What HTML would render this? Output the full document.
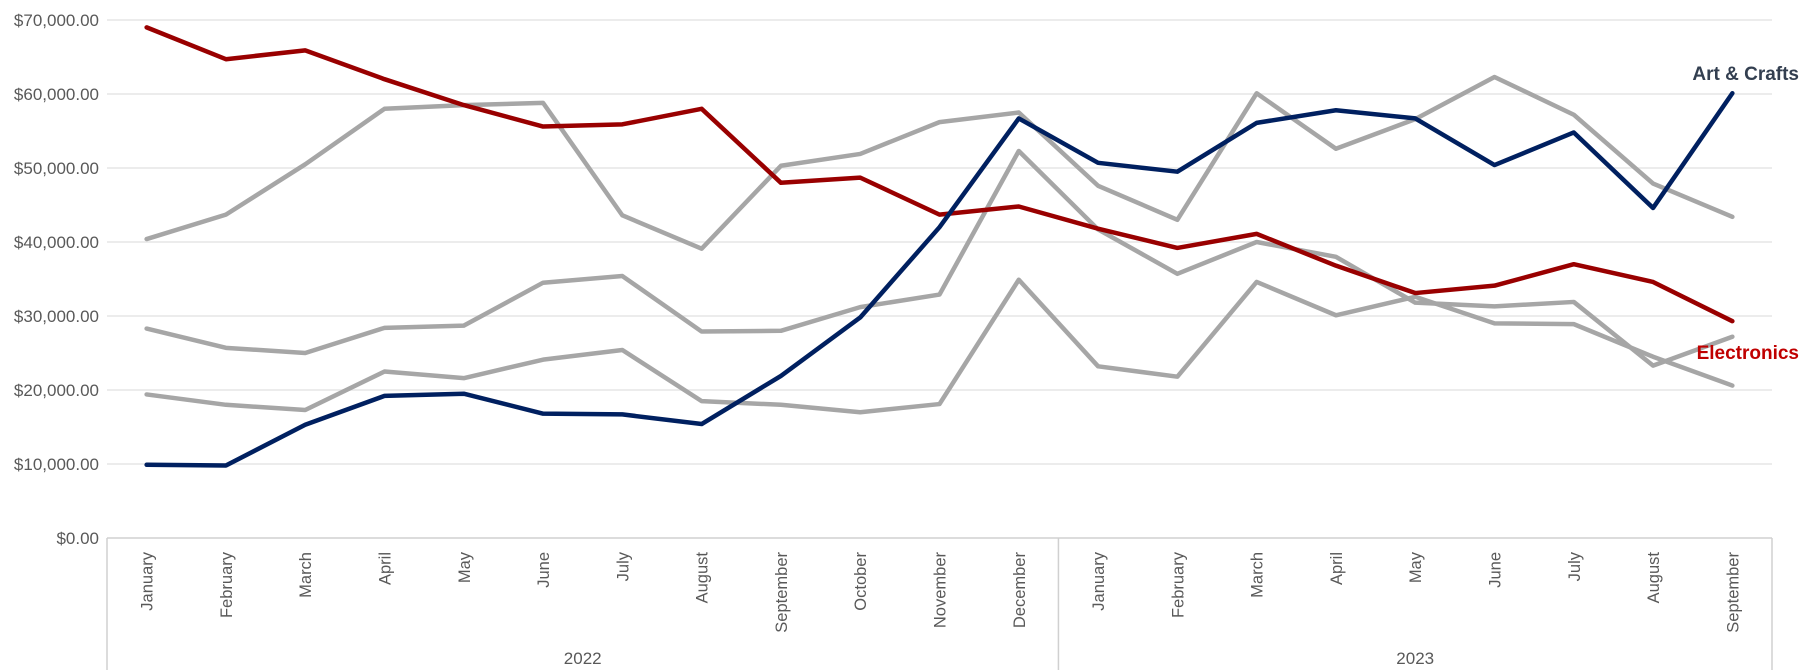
<!DOCTYPE html>
<html><head><meta charset="utf-8"><style>
body{margin:0;background:#fff;}
svg{display:block;font-family:"Liberation Sans",sans-serif;}
</style></head><body>
<svg id="chart" width="1805" height="670" viewBox="0 0 1805 670" xmlns="http://www.w3.org/2000/svg"></svg>
<script>
const months=["January","February","March","April","May","June","July","August","September","October","November","December","January","February","March","April","May","June","July","August","September"];
const years=["2022","2023"];
const yearCounts=[12,9];
const yTicks=[0,10000,20000,30000,40000,50000,60000,70000];
const electronics=[69000,64700,65900,62000,58500,55600,55900,58000,48000,48700,43700,44800,41800,39200,41100,36800,33100,34100,37000,34600,29300];
const artCrafts=[9900,9800,15300,19200,19500,16800,16700,15400,21900,29800,42000,56700,50700,49500,56100,57800,56700,50400,54800,44600,60100];
const grayA=[40400,43700,50500,58000,58500,58800,43600,39100,50300,51900,56200,57500,47600,43000,60100,52600,56600,62300,57200,47900,43400];
const grayB=[28300,25700,25000,28400,28700,34500,35400,27900,28000,31200,32900,52300,41700,35700,40000,38000,31800,31300,31900,23300,27200];
const grayC=[19400,18000,17300,22500,21600,24100,25400,18500,18000,17000,18100,34900,23200,21800,34600,30100,32600,29000,28900,24500,20600];

const NS="http://www.w3.org/2000/svg";
const svg=document.getElementById('chart');
const L=107,R=1772,T=20,B=538,yMax=70000;
const band=(R-L)/months.length;
const xs=i=>L+band*(i+0.5);
const ys=v=>B-(v/yMax)*(B-T);
function mk(tag,attrs,parent){const e=document.createElementNS(NS,tag);for(const k in attrs)e.setAttribute(k,attrs[k]);(parent||svg).appendChild(e);return e;}

yTicks.forEach(v=>{
  if(v>0){const g=mk('line',{x1:L,x2:R,y1:ys(v),y2:ys(v),stroke:'#e6e6e6','stroke-width':1.5});
  
  }
  const t=mk('text',{x:99,y:ys(v)+6,'text-anchor':'end','font-size':17,fill:'#595959'});
  t.textContent='$'+v.toLocaleString('en-US',{minimumFractionDigits:2});
  
  
});
const ax=mk('line',{x1:L,x2:R,y1:B,y2:B,stroke:'#d0d0d0','stroke-width':1.5});


let acc=0;
[0,...yearCounts].forEach((c,i)=>{
  acc+= (i===0?0:c);
  const x=L+band*acc;
  const d=mk('line',{x1:x,x2:x,y1:B,y2:670,stroke:'#d0d0d0','stroke-width':1.5});
  
  
});
let start=0;
years.forEach((y,i)=>{
  const cx=L+band*(start+yearCounts[i]/2);
  const t=mk('text',{x:cx,y:664,'text-anchor':'middle','font-size':17,fill:'#595959'});
  t.textContent=y;
  
  
  start+=yearCounts[i];
});
months.forEach((m,i)=>{
  const x=xs(i)+6,y=552;
  const t=mk('text',{x:x,y:y,'text-anchor':'end','font-size':16.5,fill:'#595959',transform:`rotate(-90 ${x} ${y})`});
  t.textContent=m;
  
  
});
function series(data,color,name){
  const p=mk('polyline',{points:data.map((v,i)=>xs(i)+','+ys(v)).join(' '),fill:'none',stroke:color,'stroke-width':4.5,'stroke-linejoin':'round','stroke-linecap':'round'});
  
  
}
series(grayA,'#a6a6a6','series-gray-a');
series(grayB,'#a6a6a6','series-gray-b');
series(grayC,'#a6a6a6','series-gray-c');
series(electronics,'#990000','series-electronics');
series(artCrafts,'#002060','series-art-crafts');
const l1=mk('text',{x:1799,y:80,'text-anchor':'end','font-size':19,'font-weight':'bold',fill:'#333f50'});
l1.textContent='Art & Crafts';


const l2=mk('text',{x:1799,y:359,'text-anchor':'end','font-size':19,'font-weight':'bold',fill:'#c00000'});
l2.textContent='Electronics';


</script>
</body></html>
